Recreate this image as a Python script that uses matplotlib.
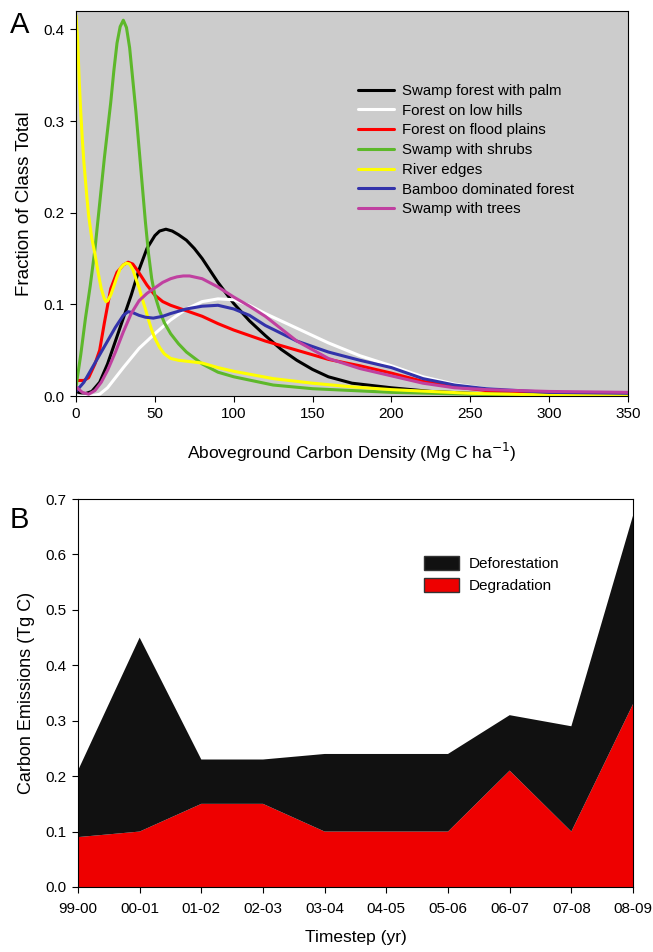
import matplotlib
matplotlib.use("Agg")
import matplotlib.pyplot as plt
import numpy as np
from matplotlib.patches import Patch

plt.rcParams['font.family'] = ['Liberation Sans', 'DejaVu Sans']

# ---- Panel A data ----
palm_x = [0, 5, 10, 15, 20, 25, 30, 35, 40, 45, 50, 53, 57, 61, 65, 70, 75, 80, 90, 100, 110, 120, 130, 140, 150, 160, 175, 200, 225, 250, 300, 350]
palm_y = [0.005, 0.002, 0.005, 0.015, 0.035, 0.06, 0.085, 0.11, 0.138, 0.161, 0.175, 0.180, 0.182, 0.180, 0.176, 0.170, 0.161, 0.150, 0.124, 0.101, 0.082, 0.066, 0.051, 0.039, 0.029, 0.021, 0.014, 0.009, 0.005, 0.003, 0.001, 0.0005]

hills_x = [0, 10, 15, 20, 30, 40, 50, 60, 70, 80, 90, 100, 110, 120, 140, 160, 180, 200, 220, 240, 260, 280, 300, 350]
hills_y = [0.0, 0.0, 0.002, 0.009, 0.031, 0.052, 0.068, 0.083, 0.095, 0.103, 0.106, 0.105, 0.099, 0.090, 0.074, 0.058, 0.044, 0.033, 0.021, 0.013, 0.008, 0.006, 0.004, 0.003]

flood_x = [0, 5, 8, 12, 15, 18, 22, 26, 30, 33, 36, 39, 42, 45, 50, 55, 60, 70, 80, 90, 100, 120, 140, 160, 180, 200, 220, 240, 260, 300, 350]
flood_y = [0.017, 0.017, 0.02, 0.035, 0.05, 0.08, 0.117, 0.135, 0.143, 0.146, 0.144, 0.137, 0.129, 0.121, 0.110, 0.103, 0.099, 0.093, 0.087, 0.079, 0.072, 0.060, 0.050, 0.040, 0.033, 0.025, 0.016, 0.010, 0.006, 0.004, 0.003]

shrub_x = [0, 3, 6, 9, 12, 15, 18, 20, 22, 24, 26, 28, 30, 32, 34, 36, 38, 40, 42, 44, 46, 48, 50, 53, 56, 60, 65, 70, 80, 90, 100, 125, 150, 200, 250, 300, 350]
shrub_y = [0.01, 0.045, 0.085, 0.12, 0.16, 0.21, 0.26, 0.29, 0.32, 0.355, 0.385, 0.403, 0.41, 0.402, 0.38, 0.345, 0.31, 0.27, 0.23, 0.19, 0.155, 0.128, 0.11, 0.093, 0.08, 0.068, 0.057, 0.048, 0.035, 0.026, 0.021, 0.012, 0.008, 0.004, 0.002, 0.001, 0.0005]

river_x = [0, 1, 2, 3, 4, 5, 6, 7, 8, 10, 12, 14, 16, 18, 19, 20, 22, 24, 26, 28, 30, 32, 34, 36, 38, 40, 42, 44, 46, 48, 50, 53, 56, 60, 65, 70, 80, 90, 100, 125, 150, 175, 200, 250, 300, 350]
river_y = [0.415, 0.39, 0.345, 0.31, 0.28, 0.255, 0.235, 0.215, 0.197, 0.172, 0.155, 0.135, 0.117, 0.106, 0.103, 0.104, 0.11, 0.12, 0.13, 0.139, 0.143, 0.145, 0.144, 0.138, 0.128, 0.118, 0.106, 0.095, 0.083, 0.072, 0.063, 0.053, 0.046, 0.041, 0.039, 0.038, 0.036, 0.031, 0.027, 0.019, 0.014, 0.010, 0.007, 0.003, 0.001, 0.0005]

bamboo_x = [0, 5, 10, 15, 20, 25, 30, 33, 36, 40, 44, 49, 55, 60, 70, 80, 90, 100, 110, 120, 140, 160, 180, 200, 220, 240, 260, 300, 350]
bamboo_y = [0.005, 0.015, 0.03, 0.045, 0.06, 0.075, 0.088, 0.092, 0.091, 0.088, 0.086, 0.085, 0.087, 0.09, 0.095, 0.098, 0.099, 0.095, 0.088, 0.077, 0.060, 0.048, 0.039, 0.031, 0.019, 0.012, 0.008, 0.004, 0.003]

trees_x = [0, 4, 8, 12, 16, 20, 25, 30, 35, 40, 45, 50, 55, 60, 64, 68, 72, 80, 90, 100, 110, 120, 140, 160, 180, 200, 220, 240, 260, 300, 350]
trees_y = [0.01, 0.004, 0.002, 0.006, 0.015, 0.028, 0.048, 0.07, 0.09, 0.104, 0.112, 0.118, 0.124, 0.128, 0.130, 0.131, 0.131, 0.128, 0.119, 0.108, 0.098, 0.087, 0.060, 0.041, 0.030, 0.022, 0.014, 0.009, 0.007, 0.005, 0.004]

series_names = ["Swamp forest with palm", "Forest on low hills", "Forest on flood plains",
                "Swamp with shrubs", "River edges", "Bamboo dominated forest", "Swamp with trees"]
series_colors = ["#000000", "#ffffff", "#ff0000", "#5db82a", "#ffff00", "#3333aa", "#c040a0"]

# ---- Panel B data ----
timesteps = ["99-00", "00-01", "01-02", "02-03", "03-04", "04-05", "05-06", "06-07", "07-08", "08-09"]
degradation = [0.09, 0.10, 0.15, 0.15, 0.10, 0.10, 0.10, 0.21, 0.10, 0.33]
deforestation = [0.12, 0.35, 0.08, 0.08, 0.14, 0.14, 0.14, 0.10, 0.19, 0.34]

fig = plt.figure(figsize=(6.53, 9.52), dpi=100)

# ---- Panel A ----
axA = fig.add_axes([0.1164, 0.584, 0.8453, 0.4044])
axA.set_facecolor("#cccccc")
xs = [palm_x, hills_x, flood_x, shrub_x, river_x, bamboo_x, trees_x]
ys = [palm_y, hills_y, flood_y, shrub_y, river_y, bamboo_y, trees_y]
handles = []
for x, y, c, n in zip(xs, ys, series_colors, series_names):
    ln, = axA.plot(x, y, color=c, lw=2.2, label=n, solid_capstyle='round', solid_joinstyle='round')
    handles.append(ln)
axA.set_xlim(0, 350)
axA.set_ylim(0, 0.42)
axA.set_xticks([0, 50, 100, 150, 200, 250, 300, 350])
axA.set_yticks([0.0, 0.1, 0.2, 0.3, 0.4])
axA.set_yticklabels(["0.0", "0.1", "0.2", "0.3", "0.4"])
axA.tick_params(direction='out', length=4, labelsize=11, pad=4)
axA.set_xlabel("Aboveground Carbon Density (Mg C ha$^{-1}$)", fontsize=12.5, labelpad=14)
axA.set_ylabel("Fraction of Class Total", fontsize=13.5, labelpad=8)
axA.legend(handles=handles, loc='upper left', bbox_to_anchor=(0.5, 0.826), frameon=False,
           fontsize=10.8, handlelength=2.4, handletextpad=0.55, labelspacing=0.38, borderaxespad=0)
for sp in axA.spines.values():
    sp.set_linewidth(0.8)
fig.text(0.015, 0.965, "A", fontsize=21)

# ---- Panel B ----
axB = fig.add_axes([0.1194, 0.0683, 0.8500, 0.4075])
xi = np.arange(len(timesteps))
axB.stackplot(xi, degradation, deforestation, colors=["#ee0000", "#111111"], linewidth=0)
axB.set_xlim(0, len(timesteps) - 1)
axB.set_ylim(0, 0.7)
axB.set_xticks(xi)
axB.set_xticklabels(timesteps)
axB.set_yticks([0.0, 0.1, 0.2, 0.3, 0.4, 0.5, 0.6, 0.7])
axB.set_yticklabels(["0.0", "0.1", "0.2", "0.3", "0.4", "0.5", "0.6", "0.7"])
axB.tick_params(axis='y', direction='out', length=4, labelsize=11, pad=4)
axB.tick_params(axis='x', direction='out', length=4, labelsize=11, pad=7)
axB.set_xlabel("Timestep (yr)", fontsize=12.5, labelpad=10)
axB.set_ylabel("Carbon Emissions (Tg C)", fontsize=13, labelpad=8)
for sp in axB.spines.values():
    sp.set_linewidth(0.8)
axB.legend(handles=[Patch(facecolor="#111111", edgecolor="#333333", label="Deforestation"),
                    Patch(facecolor="#ee0000", edgecolor="#333333", label="Degradation")],
           loc='upper left', bbox_to_anchor=(0.613, 0.868), frameon=False, fontsize=11,
           handlelength=2.3, handleheight=1.0, handletextpad=0.6, labelspacing=0.45, borderaxespad=0)
fig.text(0.015, 0.445, "B", fontsize=21)

fig.savefig("out.png", dpi=100)
